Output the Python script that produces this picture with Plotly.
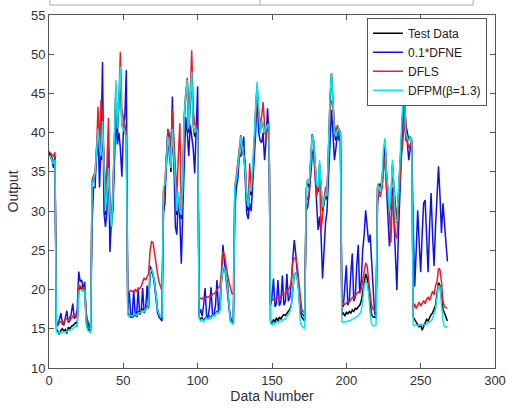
import plotly.graph_objects as go

test_data = [
    37.5, 37.2, 36.8, 35.8, 37.0,
    15.0, 14.6, 14.3, 14.8, 15.0, 14.7, 14.9, 14.4, 15.2, 15.0, 15.3, 15.4, 15.6, 15.8, 15.6, 19.8, 20.3, 20.0, 19.8, 20.0, 16.0, 15.0, 14.8, 14.7,
    33.5, 34, 34.5, 37, 40, 38, 36.5, 41, 33.5, 29.5, 31.5, 35.5, 30, 28, 31.5, 39, 46, 40, 43, 47, 41, 40.5, 40, 39.5,
    17.0, 16.6, 16.8, 16.4, 16.7, 16.9, 16.5, 17.2, 16.9, 17.3, 17.5, 17.2, 17.6, 17.8, 18.0, 22.0, 22.3, 21.8, 21.0, 19.5, 17.5, 16.8, 16.6, 16.5,
    32.5, 33, 36, 39, 38, 35, 40, 36, 33, 29.5, 32, 30, 29, 34, 42, 45, 46.5, 40, 44, 47.5, 41, 39.5, 40.5, 40,
    16.5, 16.2, 16.4, 16.0, 16.3, 16.5, 16.2, 16.6, 16.4, 16.8, 16.7, 17.0, 17.2, 17.0, 17.5, 21.0, 22.5, 22.8, 22.0, 21.0, 18.0, 16.5, 16.0, 15.8,
    33, 34, 35, 37.5, 39, 38, 37, 35, 31, 30, 33, 32, 35, 38, 43, 46, 42, 40, 41.5, 41, 40, 40, 40.5, 41,
    16.0, 15.6, 16.2, 15.8, 16.4, 16.0, 16.5, 16.2, 16.6, 16.8, 16.7, 17.0, 17.2, 17.5, 18.0, 20.5, 22.0, 22.1, 21.5, 20.0, 17.0, 16.5, 16.3, 16.0,
    32.7, 34, 33, 37, 39.8, 39, 36, 33, 32.4, 36, 33, 30, 31, 32, 31.5, 38, 44, 47.6, 43, 40, 39, 40, 40.5, 40,
    16.8, 17.0, 16.6, 17.1, 16.9, 17.2, 17.0, 17.4, 17.2, 17.6, 17.5, 17.8, 18.0, 18.5, 19.5, 21.0, 22.0, 21.5, 20.0, 18.0, 16.8, 16.5, 16.5, 16.4,
    33, 33.5, 33, 34, 37, 39, 35, 33, 30, 31, 36, 33, 30, 28.5, 32, 35, 39, 43, 45.6, 41, 40, 39, 39.5, 39,
    16.5, 16.2, 15.8, 15.5, 15.2, 15.6, 14.8, 15.3, 15.8, 16.2, 16.0, 16.5, 16.8, 17.0, 17.5, 18.0, 19.5, 20.9, 20.5, 19.0, 17.5, 17.0, 16.5, 16.0,
]

dfne_scaled = [
    37.3, 36.8, 36.5, 35.5, 36.0,
    15.8, 15.5, 16.2, 17.0, 15.6, 15.5, 16.4, 17.3, 15.8, 16.0, 17.0, 18.2, 16.3, 16.5, 17.5, 22.3, 21.0, 21.2, 20.0, 21.0, 16.5, 16.0, 15.2, 15.0,
    28.5, 33, 33, 38, 40, 33, 39, 49, 29.8, 28, 30, 38, 24.8, 29, 30, 37, 42, 38.5, 40, 38, 34.4, 40, 42, 48,
    17.5, 19.8, 16.4, 16.8, 19.9, 16.6, 17.0, 20.0, 16.8, 17.2, 20.2, 17.0, 17.5, 20.5, 17.6, 23.0, 22.5, 22.0, 20.5, 19.0, 17.0, 16.5, 16.2, 16.0,
    29.7, 31, 37, 40.5, 37, 36, 44.6, 35, 28, 27, 32, 29, 23.3, 30, 38, 42, 40, 37, 41, 39, 38, 34.8, 40, 45.9,
    16.8, 17.5, 16.6, 18.0, 20.2, 16.6, 16.5, 17.8, 20.3, 16.7, 16.8, 18.0, 21.2, 17.2, 18.5, 22.5, 25.7, 23.5, 21.5, 20.0, 17.0, 16.0, 15.8, 15.6,
    30, 33, 34, 37, 37, 38, 39.5, 34, 29.7, 29, 31, 30, 33, 36, 40, 45, 40, 39, 38.7, 40, 36.5, 39, 43.1, 40,
    18.0, 19.0, 21.4, 17.8, 18.2, 21.2, 17.9, 18.5, 21.8, 18.0, 18.5, 22.0, 18.5, 19.0, 21.0, 24.0, 26.3, 24.5, 22.0, 20.0, 17.5, 17.0, 16.8, 16.5,
    30.1, 30.5, 32, 35, 37, 38, 34, 31.8, 27.6, 29.3, 27, 21.4, 25, 28.5, 30, 35, 40, 42.9, 40, 36.5, 38, 40, 39, 40,
    18.0, 17.8, 20.5, 23.1, 18.0, 18.5, 22.0, 24.6, 18.5, 19.0, 23.0, 25.7, 19.5, 21.0, 25.0, 27.0, 30.1, 28.0, 26.0, 27.0, 23.5, 19.0, 17.0, 16.5,
    31, 32.5, 32.4, 33, 36, 37.8, 33, 29.3, 25.5, 28, 33, 29, 24, 19.9, 27, 33, 37, 41, 43.8, 41, 39, 36.5, 38, 39,
    28.0, 20.4, 25.0, 30.1, 26.0, 22.2, 27.0, 31.0, 31.4, 26.0, 22.2, 28.0, 32.3, 27.0, 23.0, 28.0, 33.0, 35.7, 32.0, 27.2, 31.0, 29.0, 26.0, 23.6,
]

dfls = [
    37.6, 37.4, 37.3, 37.0, 37.5,
    15.6, 15.4, 15.8, 15.9, 16.0, 15.8, 16.2, 16.3, 16.0, 16.5, 16.3, 16.6, 16.8, 16.7, 16.5, 20.6, 20.4, 20.3, 20.1, 20.3, 17.2, 16.0, 15.6, 15.3,
    34, 34.6, 35, 38, 43.3, 38, 44.2, 42, 36, 32, 36, 41.9, 31, 29, 33, 40, 45, 42, 44, 50.3, 43, 42, 41, 40,
    19.8, 19.7, 19.9, 19.8, 19.6, 20.0, 19.8, 20.2, 20.1, 20.4, 21.0, 21.5, 21.2, 21.6, 22.0, 25.0, 26.1, 26.0, 24.5, 23.0, 22.0, 21.0, 20.2, 19.8,
    30.5, 33.5, 37, 40.3, 40, 38, 43, 39, 35, 32, 37, 41.2, 30, 33, 42, 45, 47, 43, 45, 50.5, 43, 41, 41, 40.5,
    18.8, 18.9, 18.8, 19.0, 18.9, 19.1, 19.0, 19.2, 19.1, 19.4, 19.5, 19.6, 20.0, 20.2, 20.5, 22.0, 24.8, 24.5, 23.0, 22.0, 21.0, 20.0, 19.5, 19.4,
    33, 34.5, 36, 38, 39.7, 37.5, 37, 36.5, 32, 31, 36.1, 33, 35, 38, 42, 45, 43, 41, 42, 43.9, 41, 39, 41, 41,
    18.7, 18.6, 18.8, 18.7, 18.9, 19.0, 18.9, 19.2, 19.3, 19.5, 19.4, 19.7, 20.0, 20.3, 21.0, 23.5, 24.0, 24.0, 23.0, 21.0, 18.5, 17.5, 17.2, 17.0,
    32, 31.4, 32.5, 36, 37.4, 37, 35, 31.8, 33, 35, 27.4, 30, 31.5, 33, 33, 37, 43, 44, 44, 41, 40, 41, 40, 40,
    18.0, 18.2, 18.1, 18.3, 18.5, 18.4, 18.8, 19.0, 18.9, 19.3, 19.5, 19.7, 19.6, 20.0, 21.0, 22.5, 23.4, 23.0, 21.0, 19.5, 18.0, 17.5, 17.3, 17.5,
    33, 32, 31.9, 33, 35, 37, 33, 31, 29.7, 26, 32, 30, 27, 26.5, 30, 34, 37, 38.7, 42, 39, 39, 38, 38.5, 39,
    17.4, 18.2, 17.6, 18.0, 18.4, 17.9, 18.3, 18.6, 18.2, 18.8, 19.0, 18.6, 19.2, 19.8, 19.3, 20.5, 21.0, 22.7, 22.5, 21.0, 18.5, 17.8, 17.7, 17.6,
]

dfpm = [
    37.0, 37.0, 36.5, 36.0, 36.5,
    14.6, 14.5, 14.5, 14.5, 14.6, 14.6, 14.6, 14.6, 14.8, 14.8, 14.9, 15.0, 15.2, 15.4, 15.3, 19.5, 20.0, 20.0, 19.8, 19.9, 15.6, 14.8, 14.6, 14.5,
    33.8, 34, 34.8, 37.5, 40.5, 38, 37, 41.5, 34, 30, 32, 35.5, 30, 28, 32, 40, 46.7, 40.5, 44, 48.4, 41, 40.5, 40, 39.5,
    16.8, 16.6, 16.7, 16.6, 16.8, 16.9, 16.7, 17.0, 17.0, 17.2, 17.3, 17.2, 17.5, 17.7, 17.9, 22.3, 22.6, 22.0, 21.0, 19.5, 17.4, 16.8, 16.6, 16.5,
    33, 33.5, 36.5, 39.5, 38, 35.5, 40.5, 36, 33.5, 30, 32.5, 30, 29.5, 34.5, 42.5, 45, 46.7, 40.5, 44, 47.8, 41, 40, 40.5, 40,
    16.3, 16.0, 16.2, 15.9, 16.2, 16.4, 16.1, 16.5, 16.3, 16.7, 16.6, 16.9, 17.1, 17.0, 17.4, 21.0, 22.9, 22.7, 22.0, 20.5, 17.5, 16.0, 15.7, 15.6,
    33.1, 34, 35.5, 38, 39.5, 38, 37, 35, 31.5, 30.5, 33, 32.5, 35.5, 38.5, 43, 46.5, 42.5, 40, 41.5, 41, 40, 40.5, 41, 41,
    15.7, 15.5, 15.8, 15.6, 15.9, 15.8, 16.0, 15.9, 16.1, 16.2, 16.2, 16.5, 16.8, 17.2, 17.8, 20.5, 22.0, 22.1, 21.5, 19.5, 16.0, 15.3, 15.1, 15.0,
    32.7, 34, 33.5, 37.5, 39.7, 39, 36.5, 33.5, 33, 36.5, 33.5, 30.5, 31.5, 32, 32, 38.5, 44.5, 47.6, 43, 40, 39.5, 40.3, 40.5, 40,
    15.9, 15.8, 15.9, 15.9, 16.0, 16.0, 16.1, 16.2, 16.2, 16.4, 16.5, 16.7, 16.9, 17.3, 18.5, 20.5, 21.0, 20.8, 19.5, 17.0, 15.6, 15.4, 15.4, 15.5,
    33.5, 33, 32.4, 34, 38, 39.3, 34.8, 33, 30, 32, 36.5, 33, 29, 28.6, 32, 35, 40, 44, 45.6, 40, 39.3, 39, 39.5, 39,
    15.5, 15.4, 15.5, 15.4, 15.5, 15.5, 15.4, 15.6, 15.5, 15.6, 15.7, 15.8, 16.0, 16.3, 16.8, 17.5, 19.0, 20.5, 20.3, 18.5, 16.0, 15.3, 15.2, 15.3,
]

series_names = ["Test Data", "0.1*DFNE", "DFLS", "DFPM(\u03b2=1.3)"]
series_colors = ["#000000", "#1010ee", "#ee1c24", "#00e8f0"]
x_ticks = [0, 50, 100, 150, 200, 250, 300]
y_ticks = [10, 15, 20, 25, 30, 35, 40, 45, 50, 55]

data_number = list(range(len(test_data)))

fig = go.Figure()
for name, vals, col in zip(series_names, [test_data, dfne_scaled, dfls, dfpm], series_colors):
    fig.add_trace(go.Scatter(x=data_number, y=vals, mode="lines", name=name,
                             line=dict(color=col, width=1.5)))

font_family = "Liberation Sans, Arial, Helvetica, sans-serif"
axis_common = dict(
    showline=True, linecolor="#555555", linewidth=1, mirror="allticks",
    ticks="inside", ticklen=5, tickcolor="#555555", showgrid=False, zeroline=False,
    automargin=False,
    tickfont=dict(family=font_family, size=13, color="#303030"),
)

fig.update_layout(
    width=507, height=408,
    margin=dict(l=49, r=12, t=15, b=40),
    paper_bgcolor="white", plot_bgcolor="white",
    font=dict(family=font_family, color="#303030"),
    xaxis=dict(range=[0, 300], tickvals=x_ticks,
               title=dict(text="Data Number", font=dict(size=14, color="#303030"), standoff=2),
               **axis_common),
    yaxis=dict(range=[10, 55], tickvals=y_ticks,
               title=dict(text="Output", font=dict(size=14, color="#303030"), standoff=9),
               **axis_common),
    legend=dict(x=0.982, y=0.992, xanchor="right", yanchor="top",
                bgcolor="white", bordercolor="#555555", borderwidth=1,
                font=dict(family=font_family, size=12, color="#202020"),
                tracegroupgap=0, itemwidth=30),
    showlegend=True,
)

# fragment of a table frame at the top of the image
fig.add_shape(type="line", xref="paper", yref="paper", x0=0.002, x1=0.951, y0=1.0283, y1=1.0283,
              line=dict(color="#aaaaaa", width=1))
for xp in [0.002, 0.473, 0.951]:
    fig.add_shape(type="line", xref="paper", yref="paper", x0=xp, x1=xp, y0=1.0283, y1=1.06,
                  line=dict(color="#aaaaaa", width=1))

fig.write_html("out.html")
